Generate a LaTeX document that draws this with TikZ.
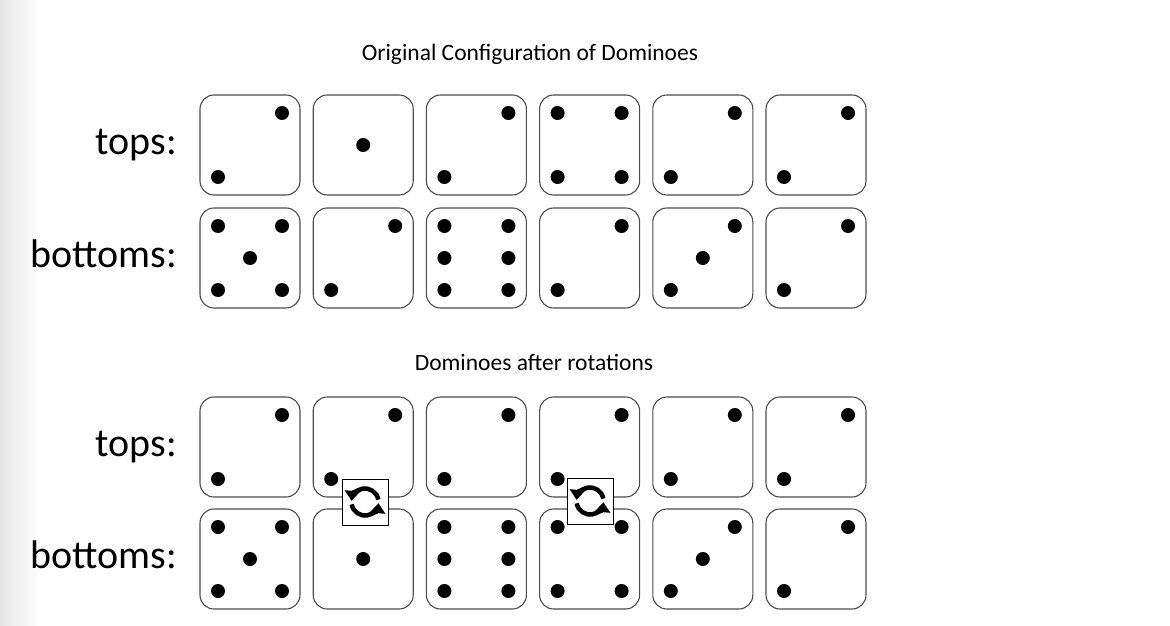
\documentclass[tikz,border=0pt]{standalone}
\usepackage{fontspec}
\setmainfont{Carlito}
\usetikzlibrary{arrows.meta}

\begin{document}
\begin{tikzpicture}
  [x=1pt,y=-1pt,
   die/.style={draw=black!70,line width=1.1pt,rounded corners=14pt,minimum size=100pt,inner sep=0pt},
   rowlabel/.style={anchor=base east,inner sep=0pt,font=\fontsize{40}{44}\selectfont},
   heading/.style={anchor=base,inner sep=0pt,font=\fontsize{23.5}{28}\selectfont},
   rot/.style={draw,fill=white,line width=1pt,minimum size=46pt,inner sep=0pt},
   spin/.style={line width=4.5pt,-{Triangle[width=15pt,length=10pt]}}]
  \useasboundingbox (0,0) rectangle (1170,626);
  \shade[left color=black!10,right color=white] (0,0) rectangle (40,626);

  \node[heading] (head1) at (530,60) {Original Configuration of Dominoes};
  \node[heading] (head2) at (534,370) {Dominoes after rotations};

  \node[rowlabel] (tops1) at (177,154) {tops:};
  \node[rowlabel] (bots1) at (177,267) {bottoms:};
  \node[rowlabel] (tops2) at (177,456) {tops:};
  \node[rowlabel] (bots2) at (177,568) {bottoms:};

  % original configuration
  \node[die] (t1) at (250,145) {};
  \node[die] (t2) at (363.2,145) {};
  \node[die] (t3) at (476.4,145) {};
  \node[die] (t4) at (589.6,145) {};
  \node[die] (t5) at (702.8,145) {};
  \node[die] (t6) at (816,145) {};
  \node[die] (b1) at (250,258) {};
  \node[die] (b2) at (363.2,258) {};
  \node[die] (b3) at (476.4,258) {};
  \node[die] (b4) at (589.6,258) {};
  \node[die] (b5) at (702.8,258) {};
  \node[die] (b6) at (816,258) {};

  % after rotations
  \node[die] (rt1) at (250,447) {};
  \node[die] (rt2) at (363.2,447) {};
  \node[die] (rt3) at (476.4,447) {};
  \node[die] (rt4) at (589.6,447) {};
  \node[die] (rt5) at (702.8,447) {};
  \node[die] (rt6) at (816,447) {};
  \node[die] (rb1) at (250,559) {};
  \node[die] (rb2) at (363.2,559) {};
  \node[die] (rb3) at (476.4,559) {};
  \node[die] (rb4) at (589.6,559) {};
  \node[die] (rb5) at (702.8,559) {};
  \node[die] (rb6) at (816,559) {};

  % pips
  \foreach \d in {t1,t3,t5,t6,b2,b4,b6,rt1,rt2,rt3,rt4,rt5,rt6,rb6}
    \foreach \x/\y in {32/-32,-32/32}
      \fill ([shift={(\x,\y)}]\d) circle (7);
  \foreach \d in {t2,rb2}
    \fill (\d) circle (7);
  \foreach \d in {b5,rb5}
    \foreach \x/\y in {32/-32,0/0,-32/32}
      \fill ([shift={(\x,\y)}]\d) circle (7);
  \foreach \d in {t4,rb4}
    \foreach \x/\y in {32/-32,-32/-32,32/32,-32/32}
      \fill ([shift={(\x,\y)}]\d) circle (7);
  \foreach \d in {b1,rb1}
    \foreach \x/\y in {32/-32,-32/-32,0/0,32/32,-32/32}
      \fill ([shift={(\x,\y)}]\d) circle (7);
  \foreach \d in {b3,rb3}
    \foreach \x/\y in {32/-32,-32/-32,32/0,-32/0,32/32,-32/32}
      \fill ([shift={(\x,\y)}]\d) circle (7);

  % rotation marks
  \node[rot] (rot2) at (365,502) {};
  \node[rot] (rot4) at (590,501) {};
  \foreach \r in {rot2,rot4}
  {
    \begin{scope}[shift={(\r)},yscale=-1]
      \draw[spin] (10:13.5) arc (10:175:13.5);
      \draw[spin] (190:13.5) arc (190:355:13.5);
    \end{scope}
  }
\end{tikzpicture}
\end{document}
